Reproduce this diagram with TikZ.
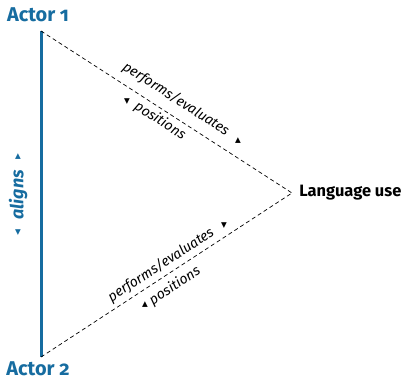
\documentclass[tikz,border=0pt]{standalone}
\usepackage{fontspec}
\setmainfont{Fira Sans}[Numbers=OldStyle]
\newfontfamily\symfont{DejaVu Sans}
\usepackage{xcolor}
\usepackage{tikz}
\usetikzlibrary{calc}
\definecolor{acolor}{RGB}{22,108,160}

\begin{document}
\begin{tikzpicture}[
    x = 1bp, y = -1bp, thick,
    actor/.style ={font = \bfseries\fontsize{20}{20}\selectfont, text = acolor, inner sep = 0pt},
    lbl/.style   ={font = \itshape\fontsize{14}{14}\selectfont, inner sep = 0pt},
    tri/.style   ={font = \symfont\fontsize{7.5}{7.5}\selectfont, inner sep = 0pt},
    dline/.style ={draw = black, line width = .7bp, dash pattern = on 4bp off 3bp}
    ]
\useasboundingbox (0, 0) rectangle (406, 380);

\def\UA{-32.8} % slope of the upper line
\def\LA{33.2}  % slope of the lower line

    \coordinate (p1) at (41, 31);
    \coordinate (p2) at (41, 357);
    \coordinate (tip) at (292, 193);

    \node (A1) at (38, 15)  [actor]{Actor 1};
    \node (A2) at (38, 369) [actor]{Actor 2};
    \node (L) at (299, 193) [anchor = west, inner sep = 0pt,
        font = \bfseries\fontsize{16.5}{16.5}\selectfont]{Language use};

    \draw [acolor, line width = 3bp](p1) -- (p2);
    \draw [dline](p1) -- (tip);
    \draw [dline](p2) -- (tip);

    % upper line
    \node (up1) at (176, 99) [lbl, rotate = \UA]{performs/evaluates};
    \node (up2) at (160, 121) [lbl, rotate = \UA]{positions};
    \node at (238, 141) [tri]{▲};
    \node at (127, 102) [tri]{▼};

    % lower line
    \node (lo1) at (161, 265) [lbl, rotate = \LA]{performs/evaluates};
    \node (lo2) at (175, 286) [lbl, rotate = \LA]{positions};
    \node at (224, 226) [tri]{▼};
    \node at (145, 305) [tri]{▲};

    % aligns
    \node (al) at (18, 195) [lbl, rotate = 90, text = acolor,
        font = \bfseries\itshape\fontsize{18}{18}\selectfont]{aligns};
    \node at (18, 157) [tri, text = acolor]{▲};
    \node at (18, 233) [tri, text = acolor]{▼};
\end{tikzpicture}
\end{document}
